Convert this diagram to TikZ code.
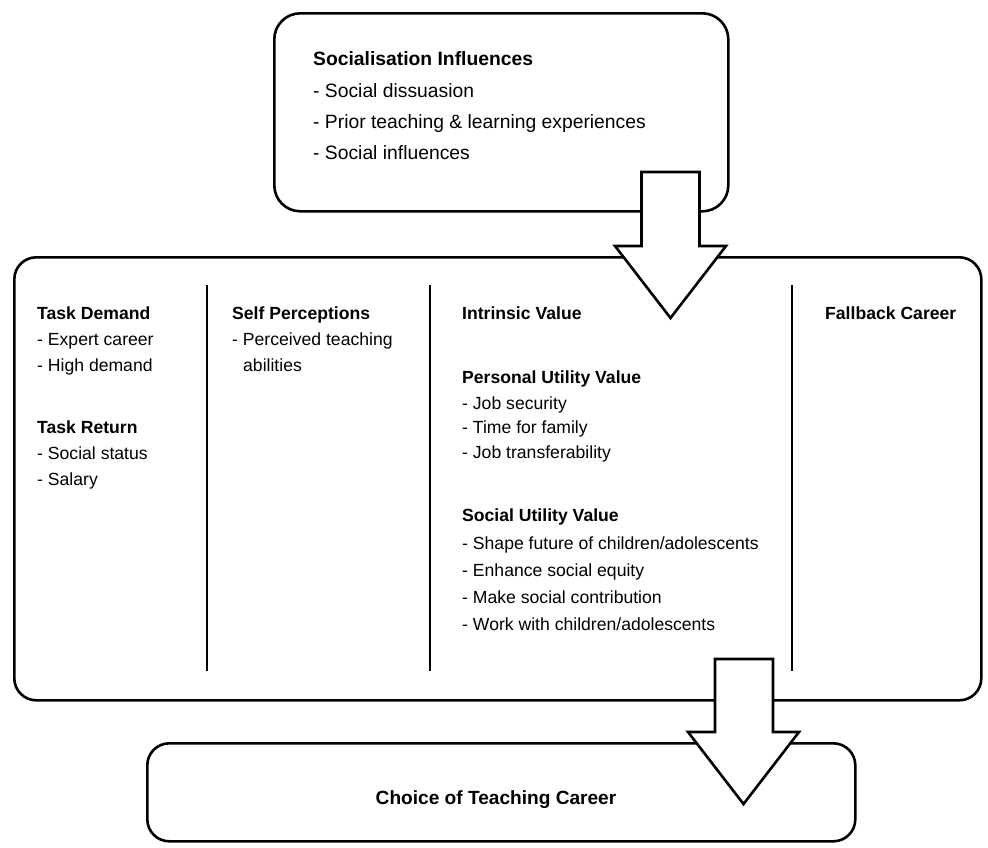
\documentclass[tikz,border=0pt]{standalone}
\usepackage{fontspec}
\setmainfont{Liberation Sans}
\begin{document}
\begin{tikzpicture}[x=1pt,y=-1pt,
  box/.style={draw=black, line width=2.6pt, fill=white, inner sep=0pt},
  divider/.style={draw=black, line width=2.2pt},
  blockarrow/.style={draw=black, line width=2.6pt, fill=white, line join=miter},
  tl/.style={inner sep=0pt, anchor=base west, font=\fontsize{19.3}{23}\selectfont},
  ml/.style={inner sep=0pt, anchor=base west, font=\fontsize{17.6}{21}\selectfont},
  bl/.style={inner sep=0pt, anchor=base, font=\fontsize{19.1}{23}\selectfont\bfseries},
  ]
\useasboundingbox (0,0) rectangle (988,847);
% boxes
\node[box, rounded corners=26pt, minimum width=454pt, minimum height=198pt, anchor=north west] (topbox) at (273,12) {};
\node[box, rounded corners=22pt, minimum width=967pt, minimum height=443pt, anchor=north west] (midbox) at (13,256) {};
\node[box, rounded corners=22pt, minimum width=708pt, minimum height=98pt, anchor=north west] (botbox) at (146,742) {};
% dividers
\coordinate (d1t) at (207,285); \coordinate (d1b) at (207,671);
\coordinate (d2t) at (430,285); \coordinate (d2b) at (430,671);
\coordinate (d3t) at (792,285); \coordinate (d3b) at (792,671);
\draw[divider] (d1t) -- (d1b);
\draw[divider] (d2t) -- (d2b);
\draw[divider] (d3t) -- (d3b);
% top box text
\node[tl] (s1) at (313,65) {\bfseries Socialisation Influences};
\node[tl] (s2) at (313,97) {- Social dissuasion};
\node[tl] (s3) at (313,128) {- Prior teaching \& learning experiences};
\node[tl] (s4) at (313,159) {- Social influences};
% column 1
\node[ml] (a1) at (37,319) {\bfseries Task Demand};
\node[ml] (a2) at (37,345) {- Expert career};
\node[ml] (a3) at (37,371) {- High demand};
\node[ml] (a4) at (37,433) {\bfseries Task Return};
\node[ml] (a5) at (37,459) {- Social status};
\node[ml] (a6) at (37,485) {- Salary};
% column 2
\node[ml] (b1) at (232,319) {\bfseries Self Perceptions};
\node[ml] (b2) at (232,345) {- Perceived teaching};
\node[ml] (b3) at (243,371) {abilities};
% column 3
\node[ml] (c1) at (462,319) {\bfseries Intrinsic Value};
\node[ml] (c2) at (462,383) {\bfseries Personal Utility Value};
\node[ml] (c3) at (462,409) {- Job security};
\node[ml] (c4) at (462,433) {- Time for family};
\node[ml] (c5) at (462,458) {- Job transferability};
\node[ml] (c6) at (462,521) {\bfseries Social Utility Value};
\node[ml] (c7) at (462,549) {- Shape future of children/adolescents};
\node[ml] (c8) at (462,576) {- Enhance social equity};
\node[ml] (c9) at (462,603) {- Make social contribution};
\node[ml] (c10) at (462,630) {- Work with children/adolescents};
% column 4
\node[ml] (f1) at (825,319) {\bfseries Fallback Career};
% bottom text
\node[bl] (choice) at (496,804) {Choice of Teaching Career};
% block arrows
\draw[blockarrow] (641.5,172) -- (699.5,172) -- (699.5,246) -- (726,246) -- (670.5,318) -- (615,246) -- (641.5,246) -- cycle;
\draw[blockarrow] (715,659) -- (773,659) -- (773,732) -- (799,732) -- (743.5,804) -- (688,732) -- (715,732) -- cycle;
\end{tikzpicture}
\end{document}
